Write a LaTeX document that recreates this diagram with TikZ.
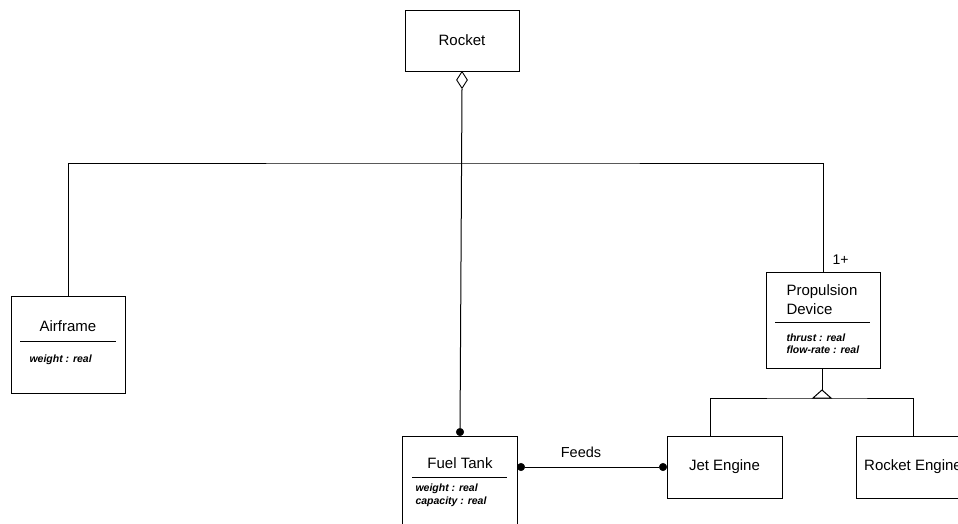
\documentclass[tikz,border=0pt]{standalone}
\usepackage{fontspec}
\setmainfont{Liberation Sans}
\usetikzlibrary{shapes.geometric}
\begin{document}
\begin{tikzpicture}[x=1pt,y=-1pt, line width=1pt,
  box/.style={draw, line width=1pt, anchor=north west, inner sep=0pt, outer sep=0pt, font=\fontsize{15}{18}\selectfont},
  ttl/.style={font=\fontsize{15}{18.5}\selectfont, inner sep=0pt},
  attr/.style={font=\fontsize{10.5}{12.5}\selectfont\bfseries\itshape, inner sep=0pt, anchor=west, align=left},
  dotn/.style={circle, fill, draw, inner sep=0pt, minimum size=7.5pt, line width=0.5pt},
  aggr/.style={diamond, draw, fill=white, inner sep=0pt, minimum width=11pt, minimum height=17pt, line width=0.9pt}
]
\useasboundingbox (0,0) rectangle (958,523);
\clip (0,0) rectangle (958,523);

% boxes
\node[box, minimum width=114pt, minimum height=61pt] (rocket) at (405,10) {Rocket};
\node[box, minimum width=114pt, minimum height=97pt] (airframe) at (11,296) {};
\node[box, minimum width=114pt, minimum height=96pt] (pd) at (766,272) {};
\node[box, minimum width=115pt, minimum height=120pt] (ft) at (402,436) {};
\node[box, minimum width=115pt, minimum height=62pt] (jet) at (667,436) {Jet Engine};
\node[box, minimum width=114pt, minimum height=62pt] (reng) at (856,436) {Rocket Engine};

% texts inside class boxes
\node[ttl] (aft) at (68,326) {Airframe};
\draw (20,341) -- (116,341);
\node[attr] (afa) at (29,360) {weight : real};

\node[ttl, anchor=west, align=left] (pdt) at (786,299.5) {Propulsion\\Device};
\draw (775,322) -- (870,322);
\node[attr] (pda) at (786,343.5) {thrust : real\\flow-rate : real};

\node[ttl] (ftt) at (460,463) {Fuel Tank};
\draw (412,477) -- (507,477);
\node[attr] (fta) at (415,495.5) {weight : real\\capacity : real};

% aggregation from Rocket
\node[aggr, anchor=north] (agg) at (rocket.south) {};
\node[dotn] (ftdot) at (460,432) {};
\draw (agg.south) -- (ftdot);
\coordinate (bar) at (460,163);
\draw (airframe.north) |- (bar) -| (pd.north);
\node[font=\fontsize{14}{16}\selectfont, inner sep=0pt, anchor=south west] (mult) at ([xshift=9pt,yshift=7pt]pd.north) {1+};

% generalization
\coordinate (gen) at (822,390);
\coordinate (genbase) at (822,398);
\draw (pd.south -| gen) -- (gen);
\draw (gen) -- (813,398) -- (831,398) -- cycle;
\draw ([xshift=-14.5pt]jet.north) |- (genbase) -| (reng.north);

% Feeds association
\node[dotn] (fd1) at (521,467) {};
\node[dotn] (fd2) at (663,467) {};
\draw (fd1) -- (fd2);
\node[font=\fontsize{14.5}{17}\selectfont, inner sep=0pt] (feeds) at (581,452) {Feeds};
\end{tikzpicture}
\end{document}
